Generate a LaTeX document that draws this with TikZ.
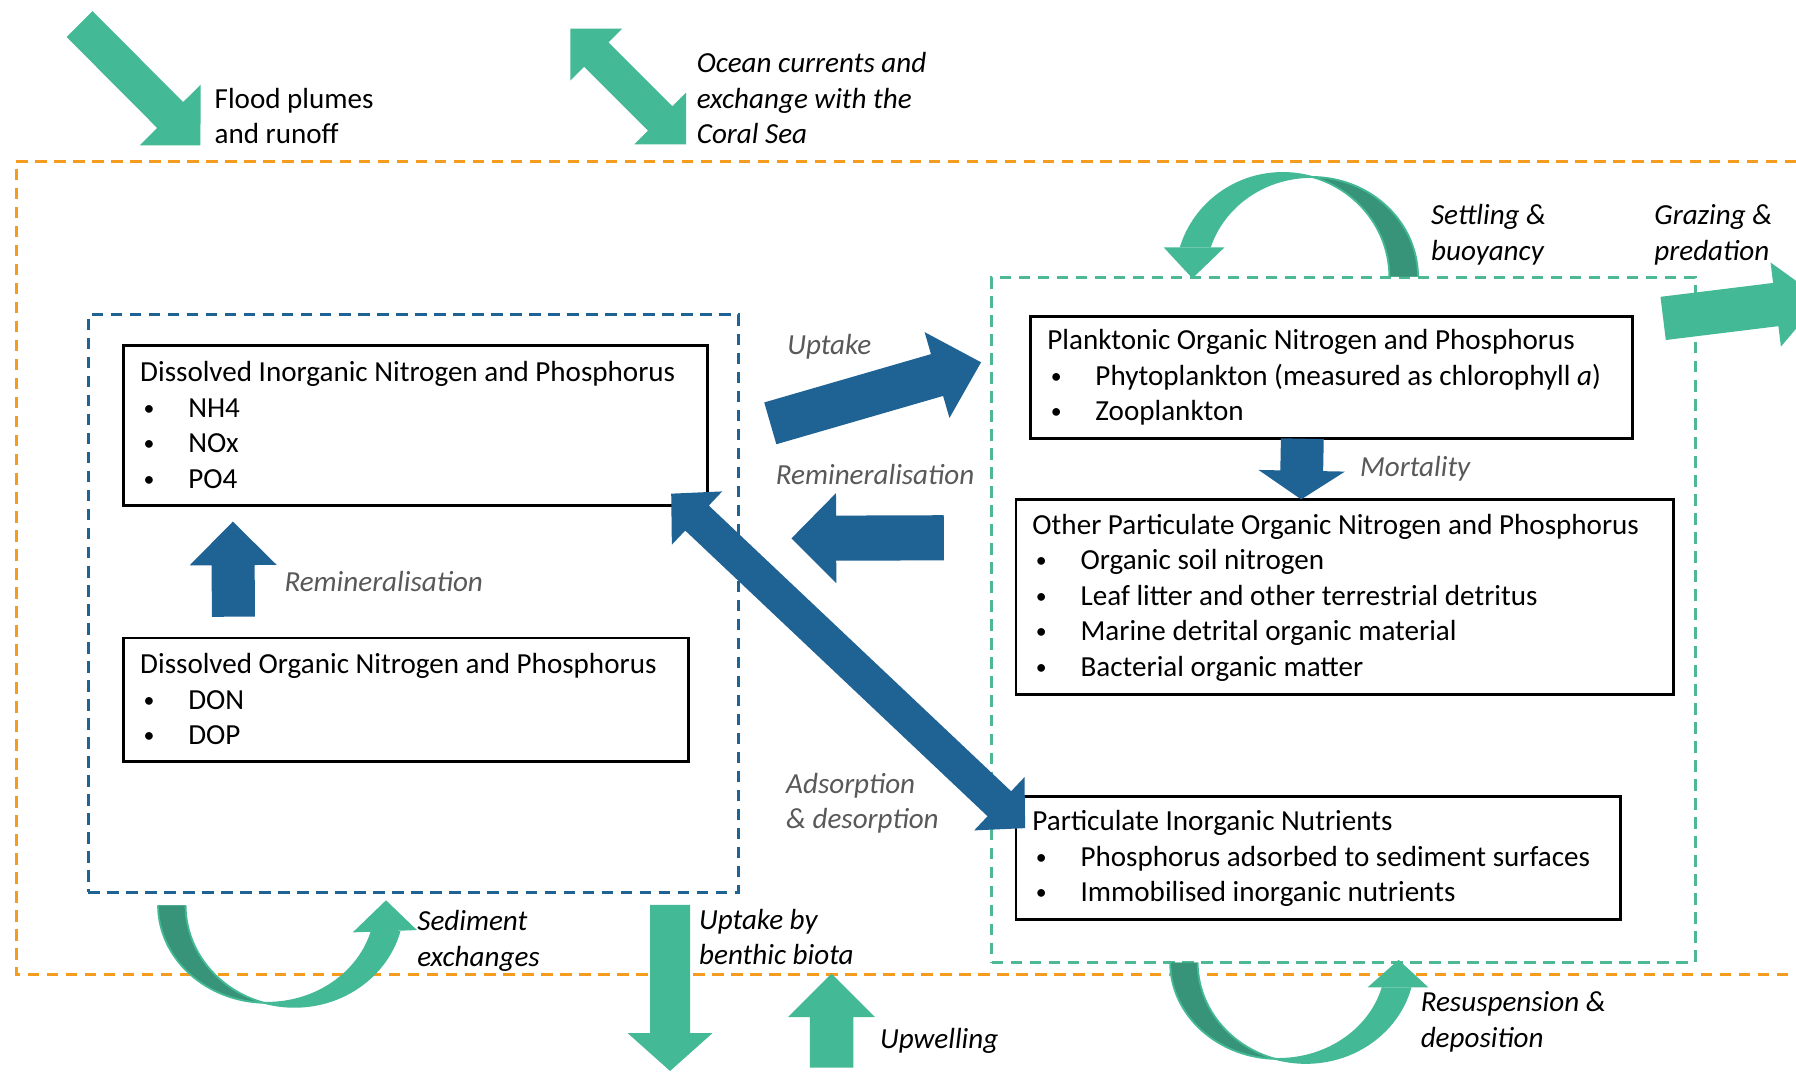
\documentclass[tikz,border=0pt]{standalone}
\usepackage{fontspec}
\setmainfont{Carlito}
\usetikzlibrary{calc}
\definecolor{tealL}{RGB}{68,185,150}
\definecolor{tealD}{RGB}{56,148,120}
\definecolor{blueA}{RGB}{31,98,148}
\definecolor{grayT}{RGB}{89,89,89}
\definecolor{orangeD}{RGB}{245,155,30}
\definecolor{greenD}{RGB}{77,184,146}
\newcommand\tstr{\rule{0pt}{11pt}}
\newcommand\bitem[1]{\makebox[21pt][l]{\hspace{1.5pt}\raisebox{0.9pt}{\fontsize{9.5}{9.5}\selectfont\textbullet}}#1}
% block arrow: style, tail, tip, half shaft, half head, head length
\newcommand\blockarr[6]{%
  \path ($(#3)!#6!(#2)$) coordinate (baBase);
  \fill[#1] ($(#2)!#4!90:(#3)$) -- ($(baBase)!#4!90:(#3)$) -- ($(baBase)!#5!90:(#3)$) -- (#3)
    -- ($(baBase)!#5!-90:(#3)$) -- ($(baBase)!#4!-90:(#3)$) -- ($(#2)!#4!-90:(#3)$) -- cycle;}
% double block arrow: style, tipA, tipB, half shaft, half head, head length
\newcommand\dblarr[6]{%
  \path ($(#2)!#6!(#3)$) coordinate (dbA) ($(#3)!#6!(#2)$) coordinate (dbB);
  \fill[#1] (#2) -- ($(dbA)!#5!90:(#3)$) -- ($(dbA)!#4!90:(#3)$) -- ($(dbB)!#4!-90:(#2)$)
    -- ($(dbB)!#5!-90:(#2)$) -- (#3) -- ($(dbB)!#5!90:(#2)$) -- ($(dbB)!#4!90:(#2)$)
    -- ($(dbA)!#4!-90:(#3)$) -- ($(dbA)!#5!-90:(#3)$) -- cycle;}
\begin{document}
\begin{tikzpicture}[x=0.5pt,y=-0.5pt,
  box/.style={draw=black, line width=1.3pt, fill=white, inner sep=0pt},
  frame/.style={line width=1.3pt, dash pattern=on 5pt off 3.3pt},
  txt/.style={anchor=north west, inner sep=0pt, align=left, font=\fontsize{12.7}{15.5}\selectfont},
  lbl/.style={txt, font=\fontsize{12.7}{15.5}\selectfont\itshape},
  glbl/.style={lbl, text=grayT},
  rim/.style={tealL, line width=0.8pt}]
\useasboundingbox (0,0) rectangle (1568,936);
\clip (0,0) rectangle (1568,936);
\fill[white] (0,0) rectangle (1568,936);

% frames
\draw[frame, draw=orangeD] (1568,141) -- (14,141) -- (14,851) -- (1568,851);
\node[frame, draw=blueA, minimum width=284pt, minimum height=252pt, inner sep=0pt] (bframe) at (361,527) {};
\node[frame, draw=greenD, minimum width=307pt, minimum height=299pt, inner sep=0pt] (gframe) at (1173,541) {};

% boxes
\node[box, minimum width=255pt, minimum height=69.5pt] (din) at (363,371.5) {};
\node[box, minimum width=246.5pt, minimum height=54pt] (don) at (354.5,611) {};
\node[box, minimum width=262.5pt, minimum height=53.5pt] (plank) at (1162.5,329.5) {};
\node[box, minimum width=287pt, minimum height=85pt] (other) at (1174,521) {};
\node[box, minimum width=264pt, minimum height=54pt] (pin) at (1151,749) {};

\node[txt] (dint) at (122,311) {\tstr Dissolved Inorganic Nitrogen and Phosphorus\\\bitem{NH4}\\\bitem{NOx}\\\bitem{PO4}};
\node[txt] (dont) at (122,566) {\tstr Dissolved Organic Nitrogen and Phosphorus\\\bitem{DON}\\\bitem{DOP}};
\node[txt] (plankt) at (914,283) {\tstr Planktonic Organic Nitrogen and Phosphorus\\\bitem{Phytoplankton (measured as chlorophyll \textit{a})}\\\bitem{Zooplankton}};
\node[txt] (othert) at (901,444) {\tstr Other Particulate Organic Nitrogen and Phosphorus\\\bitem{Organic soil nitrogen}\\\bitem{Leaf litter and other terrestrial detritus}\\\bitem{Marine detrital organic material}\\\bitem{Bacterial organic matter}};
\node[txt] (pint) at (901,703) {\tstr Particulate Inorganic Nutrients\\\bitem{Phosphorus adsorbed to sediment surfaces}\\\bitem{Immobilised inorganic nutrients}};

% straight green arrows
\blockarr{tealL}{69.5,21}{175,127}{8pt}{18.75pt}{18.75pt}
\dblarr{tealL}{498,25}{599,126}{7.5pt}{16pt}{16pt}
\blockarr{tealL}{1452,278}{1590,261}{9.5pt}{18.5pt}{20pt}
\blockarr{tealL}{585,790}{585,935}{8.75pt}{18.5pt}{16.5pt}
\blockarr{tealL}{726,932}{726,850}{9.5pt}{19pt}{19pt}

% blue arrows
\blockarr{blueA}{672.5,369.6}{856.5,316.3}{9.5pt}{19.5pt}{20pt}
\blockarr{blueA}{824,469.5}{691,470}{9.85pt}{19.65pt}{19.5pt}
\dblarr{blueA}{586,431}{895,723}{7.5pt}{16pt}{15.5pt}
\blockarr{blueA}{1137,383}{1136,436}{9.35pt}{18.85pt}{12.5pt}
\blockarr{blueA}{203.8,538.4}{203.3,455.4}{9.4pt}{19pt}{19pt}

% settling & buoyancy ribbon
\begin{scope}
  \clip (1000,100) -- (1300,100) -- (1300,241.5) -- (1090,241.5) -- (1090,216) -- (1000,216) -- cycle;
  \fill[tealL, even odd rule] (1213,242) arc[start angle=0,end angle=-180,x radius=93,y radius=91] -- cycle
     (1238,242) arc[start angle=0,end angle=-180,x radius=93,y radius=87.5] -- cycle;
  \begin{scope}
    \clip (1238,242) arc[start angle=0,end angle=-180,x radius=93,y radius=87.5] -- cycle;
    \fill[tealD, even odd rule] (1213,242) arc[start angle=0,end angle=-180,x radius=93,y radius=91] -- cycle
     (1238,242) arc[start angle=0,end angle=-180,x radius=93,y radius=87.5] -- cycle;
  \end{scope}
  \draw[rim] (1213,242) arc[start angle=0,end angle=-180,x radius=93,y radius=91];
  \draw[rim] (1238,242) arc[start angle=0,end angle=-180,x radius=93,y radius=87.5];
\end{scope}
\fill[tealL] (1016,216) -- (1069,216) -- (1041,243) -- cycle;

% sediment exchanges ribbon
\begin{scope}
  \clip (100,790.5) -- (290,790.5) -- (290,813) -- (400,813) -- (400,900) -- (100,900) -- cycle;
  \fill[tealL, even odd rule] (352,790) arc[start angle=0,end angle=180,x radius=95,y radius=89] -- cycle
     (328,790) arc[start angle=0,end angle=180,x radius=95,y radius=85.5] -- cycle;
  \begin{scope}
    \clip (328,790) arc[start angle=0,end angle=180,x radius=95,y radius=85.5] -- cycle;
    \fill[tealD, even odd rule] (352,790) arc[start angle=0,end angle=180,x radius=95,y radius=89] -- cycle
     (328,790) arc[start angle=0,end angle=180,x radius=95,y radius=85.5] -- cycle;
  \end{scope}
  \draw[rim] (352,790) arc[start angle=0,end angle=180,x radius=95,y radius=89];
  \draw[rim] (328,790) arc[start angle=0,end angle=180,x radius=95,y radius=85.5];
\end{scope}
\fill[tealL] (308,814) -- (364,812) -- (337,786) -- cycle;

% resuspension ribbon
\begin{scope}
  \clip (1000,840.5) -- (1170,840.5) -- (1170,862) -- (1300,862) -- (1300,940) -- (1000,940) -- cycle;
  \fill[tealL, even odd rule] (1234.4,840) arc[start angle=0,end angle=180,x radius=94.4,y radius=88] -- cycle
     (1210.4,840) arc[start angle=0,end angle=180,x radius=94.4,y radius=84.5] -- cycle;
  \begin{scope}
    \clip (1210.4,840) arc[start angle=0,end angle=180,x radius=94.4,y radius=84.5] -- cycle;
    \fill[tealD, even odd rule] (1234.4,840) arc[start angle=0,end angle=180,x radius=94.4,y radius=88] -- cycle
     (1210.4,840) arc[start angle=0,end angle=180,x radius=94.4,y radius=84.5] -- cycle;
  \end{scope}
  \draw[rim] (1234.4,840) arc[start angle=0,end angle=180,x radius=94.4,y radius=88];
  \draw[rim] (1210.4,840) arc[start angle=0,end angle=180,x radius=94.4,y radius=84.5];
\end{scope}
\fill[tealL] (1194,862) -- (1247,862) -- (1221,838) -- cycle;

% labels
\node[txt] (lflood) at (187,72) {\tstr Flood plumes\\and runoff};
\node[lbl] (locean) at (608,41) {\tstr Ocean currents and\\exchange with the\\Coral Sea};
\node[lbl] (lsettle) at (1249,174) {\tstr Settling \&\\buoyancy};
\node[lbl] (lgraze) at (1444,174) {\tstr Grazing \&\\predation};
\node[glbl] (luptake) at (687,287) {\tstr Uptake};
\node[glbl] (lremm) at (677,401) {\tstr Remineralisation};
\node[glbl] (lmort) at (1187,394) {\tstr Mortality};
\node[glbl] (lreml) at (248,494) {\tstr Remineralisation};
\node[glbl] (ladsorb) at (686,670) {\tstr Adsorption\\\& desorption};
\node[lbl] (lsed) at (364,790) {\tstr Sediment\\exchanges};
\node[lbl] (lbenth) at (610,789) {\tstr Uptake by\\benthic biota};
\node[lbl] (lupw) at (768,893) {\tstr Upwelling};
\node[lbl] (lresus) at (1240,861) {\tstr Resuspension \&\\deposition};
\end{tikzpicture}
\end{document}
